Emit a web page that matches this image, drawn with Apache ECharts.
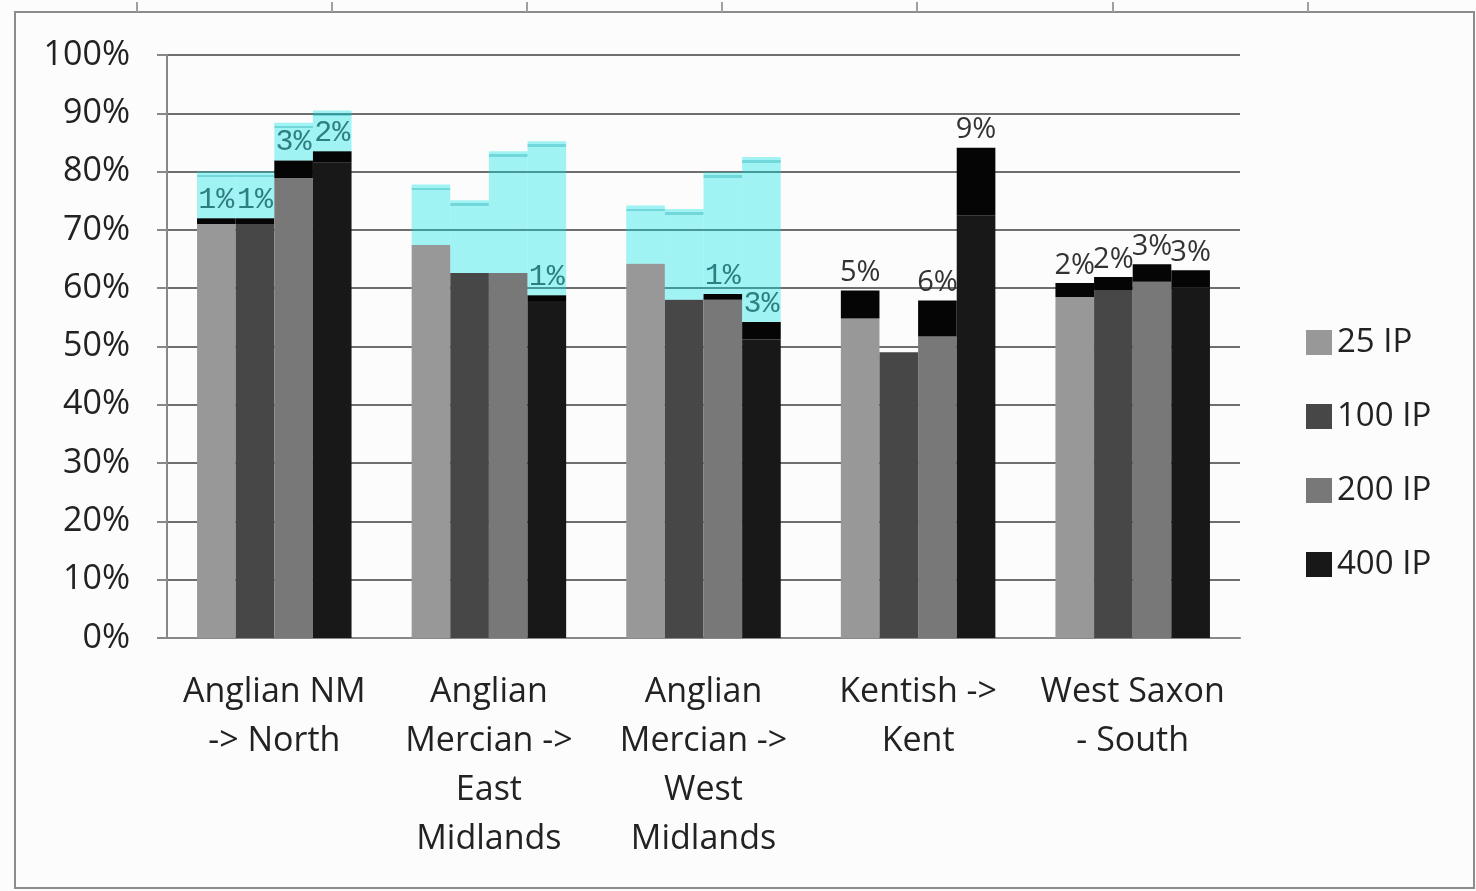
<!DOCTYPE html>
<html>
<head>
<meta charset="utf-8">
<script src="https://cdn.jsdelivr.net/npm/echarts@6/dist/echarts.min.js"></script>
<style>html,body{margin:0;padding:0;background:#fcfcfc;}#c{width:1476px;height:891px;}</style>
</head>
<body>
<div id="c"></div>
<script>
// ---- data ----
const categories = ['Anglian NM\n-> North', 'Anglian\nMercian ->\nEast\nMidlands', 'Anglian\nMercian ->\nWest\nMidlands', 'Kentish ->\nKent', 'West Saxon\n- South'];
const seriesNames = ['25 IP', '100 IP', '200 IP', '400 IP'];
const yTicks = [0, 10, 20, 30, 40, 50, 60, 70, 80, 90, 100];

// base share per series (%)
const base25  = [71.0, 67.4, 64.2, 54.8, 58.5];
const base100 = [71.0, 62.6, 58.0, 49.0, 59.7];
const base200 = [78.9, 62.6, 58.0, 51.7, 61.1];
const base400 = [81.5, 57.8, 51.2, 72.5, 60.1];

// increment drawn in black on top of each bar (%)
const inc25  = [1.0, 0, 0, 4.8, 2.4];
const inc100 = [1.0, 0, 0, 0, 2.2];
const inc200 = [3.0, 0, 1.0, 6.2, 3.0];
const inc400 = [2.0, 1.0, 3.0, 11.6, 3.0];

// labels printed above the increments
const labels25  = ['1%', '', '', '5%', '2%'];
const labels100 = ['1%', '', '', '', '2%'];
const labels200 = ['3%', '', '1%', '6%', '3%'];
const labels400 = ['2%', '1%', '3%', '9%', '3%'];

// top of the highlighted (cyan) range (%), null = none
const range25  = [80.0, 77.8, 74.2, null, null];
const range100 = [80.0, 75.1, 73.6, null, null];
const range200 = [88.4, 83.5, 79.9, null, null];
const range400 = [90.5, 85.2, 82.5, null, null];

// ---- styles ----
const baseColors = ['#989898', '#474747', '#787878', '#181818'];
const incColor = '#050505';
const cyan = 'rgba(0,228,228,0.36)';
const teal = 'rgba(0,185,190,0.55)';
const tealText = '#2e7f80';
const darkText = '#333333';
const font = '"Open Sans", "Noto Sans", sans-serif';
const monoFont = '"Liberation Mono", "DejaVu Sans Mono", monospace';

const bases = [base25, base100, base200, base400];
const incs = [inc25, inc100, inc200, inc400];
const labs = [labels25, labels100, labels200, labels400];
const ranges = [range25, range100, range200, range400];

const series = [];
for (let i = 0; i < 4; i++) {
  series.push({
    name: seriesNames[i], type: 'bar', stack: 's' + i,
    barGap: '0%', barCategoryGap: '28%',
    itemStyle: { color: baseColors[i] },
    data: bases[i]
  });
  series.push({
    name: seriesNames[i] + ' change', type: 'bar', stack: 's' + i,
    itemStyle: { color: incColor },
    label: {
      show: true, position: 'top', distance: 3, fontSize: 30,
      formatter: p => labs[i][p.dataIndex]
    },
    data: incs[i].map((v, j) => {
      const inRange = ranges[i][j] != null;
      return {
        value: v,
        label: {
          show: true, position: 'top', distance: 3,
          color: inRange ? tealText : darkText,
          fontFamily: inRange ? monoFont : font,
          fontSize: inRange ? 30 : 29
        }
      };
    })
  });
  series.push({
    name: seriesNames[i] + ' range', type: 'bar', stack: 's' + i,
    silent: true,
    data: ranges[i].map((t, j) => {
      if (t == null) return '-';
      const h = t - bases[i][j] - incs[i][j];
      const a = 0.55 / h, b = 1.0 / h;
      return {
        value: h,
        itemStyle: {
          color: {
            type: 'linear', x: 0, y: 0, x2: 0, y2: 1,
            colorStops: [
              { offset: 0, color: cyan }, { offset: a, color: cyan },
              { offset: a, color: teal }, { offset: b, color: teal },
              { offset: b, color: cyan }, { offset: 1, color: cyan }
            ]
          }
        }
      };
    })
  });
}

const topTicks = [137, 332, 527, 722, 917, 1113, 1308];
const graphic = [{
  type: 'rect', z: -1, silent: true,
  shape: { x: 15, y: 12, width: 1459, height: 876 },
  style: { fill: null, stroke: '#8c8c8c', lineWidth: 2 }
}].concat(topTicks.map(x => ({
  type: 'line', silent: true,
  shape: { x1: x, y1: 2, x2: x, y2: 12 },
  style: { stroke: '#a0a0a0', lineWidth: 2 }
})));

const chart = echarts.init(document.getElementById('c'), null, { renderer: 'canvas' });
chart.setOption({
  backgroundColor: '#fcfcfc',
  animation: false,
  textStyle: { fontFamily: font },
  graphic: graphic,
  grid: { left: 167, right: 236, top: 55, bottom: 253, containLabel: false },
  legend: {
    data: seriesNames, orient: 'vertical', left: 1301, top: 321,
    icon: 'rect', itemWidth: 26, itemHeight: 25, itemGap: 41,
    textStyle: { fontSize: 33, lineHeight: 32, color: '#222', fontFamily: font }
  },
  xAxis: {
    type: 'category', data: categories,
    axisLine: { lineStyle: { color: '#888', width: 2 } },
    axisTick: { length: 14, lineStyle: { color: '#888', width: 2 } },
    axisLabel: { interval: 0, fontSize: 34, lineHeight: 49, color: '#222', margin: 30, fontFamily: font }
  },
  yAxis: {
    type: 'value', min: yTicks[0], max: yTicks[yTicks.length - 1], interval: 10,
    axisLine: { show: true, lineStyle: { color: '#888', width: 2 } },
    axisTick: { show: true, length: 10, lineStyle: { color: '#888', width: 2 } },
    axisLabel: { formatter: '{value}%', fontSize: 34, color: '#222', margin: 37, fontFamily: font },
    splitLine: { lineStyle: { color: '#6e6e6e', width: 2 } }
  },
  series: series
});
</script>
</body>
</html>
